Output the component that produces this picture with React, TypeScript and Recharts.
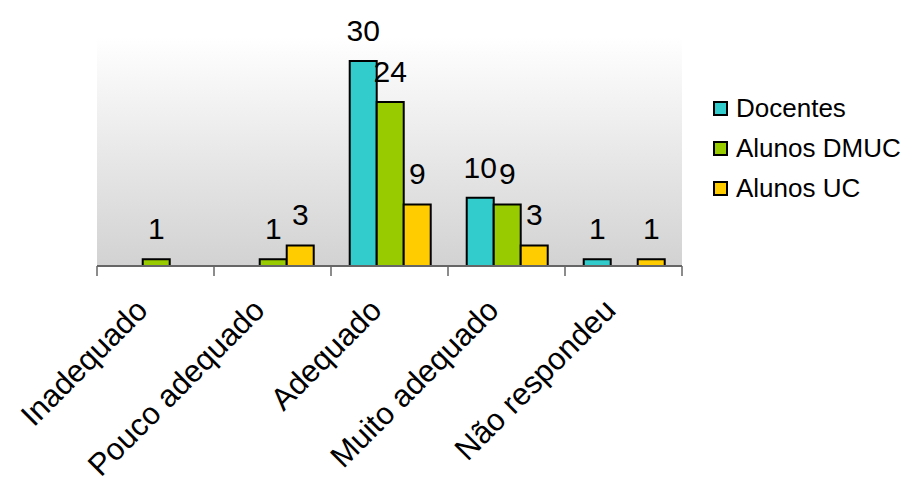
import { BarChart, Bar, XAxis, YAxis, CartesianGrid, LabelList, Legend } from 'recharts'

const categories = ['Inadequado', 'Pouco adequado', 'Adequado', 'Muito adequado', 'Não respondeu']
const docentes = [0, 0, 30, 10, 1]
const alunosDmuc = [1, 1, 24, 9, 0]
const alunosUc = [0, 3, 9, 3, 1]

const seriesNames = ['Docentes', 'Alunos DMUC', 'Alunos UC']
const seriesKeys = ['docentes', 'dmuc', 'uc']
const seriesColors = ['#33CCCC', '#99CC00', '#FFCC00']

const data = categories.map((name, i) => ({
  name,
  docentes: docentes[i],
  dmuc: alunosDmuc[i],
  uc: alunosUc[i],
}))

const FONT = '"Liberation Sans", Arial, sans-serif'
const PLOT_LEFT = 97
const PLOT_RIGHT = 682
const BAND = (PLOT_RIGHT - PLOT_LEFT) / categories.length

function CategoryTick(props: any) {
  const { x, y, payload, index } = props
  const ax = x - 6
  const ay = y + 46
  return (
    <g>
      <line x1={x - BAND / 2} x2={x - BAND / 2} y1={y} y2={y + 10} stroke="#666" strokeWidth={1.5} />
      {index === categories.length - 1 && (
        <line x1={x + BAND / 2} x2={x + BAND / 2} y1={y} y2={y + 10} stroke="#666" strokeWidth={1.5} />
      )}
      <text
        x={ax}
        y={ay}
        textAnchor="end"
        transform={`rotate(-45, ${ax}, ${ay})`}
        fontSize={31}
        fontFamily={FONT}
        fill="#000"
      >
        {payload.value}
      </text>
    </g>
  )
}

function LegendBox() {
  return (
    <div style={{ fontFamily: FONT, fontSize: 26, color: '#000' }}>
      {seriesNames.map((n, i) => (
        <div key={n} style={{ display: 'flex', alignItems: 'center', height: 40 }}>
          <span
            style={{
              display: 'inline-block',
              width: 11,
              height: 11,
              background: seriesColors[i],
              border: '2px solid #000',
              marginRight: 8,
            }}
          />
          <span>{n}</span>
        </div>
      ))}
    </div>
  )
}

const labelFmt = (v: any) => (v ? v : '')

export default function App() {
  return (
    <div style={{ position: 'absolute', left: 0, top: 0, width: 904, height: 484, background: '#fff' }}>
      <BarChart
        width={904}
        height={484}
        data={data}
        margin={{ top: 37, right: 904 - PLOT_RIGHT, bottom: 0, left: PLOT_LEFT }}
        barCategoryGap="16%"
        barGap={0}
      >
        <defs>
          <linearGradient id="plotBg" x1="0" y1="0" x2="0" y2="1">
            <stop offset="0%" stopColor="#ffffff" />
            <stop offset="100%" stopColor="#d2d2d2" />
          </linearGradient>
        </defs>
        <CartesianGrid horizontal={false} vertical={false} fill="url(#plotBg)" />
        <XAxis
          dataKey="name"
          height={218}
          interval={0}
          tickLine={false}
          tickSize={0}
          tickMargin={0}
          axisLine={{ stroke: '#666', strokeWidth: 2 }}
          tick={<CategoryTick />}
        />
        <YAxis hide domain={[0, 33.5]} />
        <Legend
          layout="vertical"
          align="center"
          verticalAlign="middle"
          content={<LegendBox />}
          wrapperStyle={{ left: 713, top: 88, width: 191 }}
        />
        {seriesKeys.map((k, i) => (
          <Bar
            key={k}
            dataKey={k}
            name={seriesNames[i]}
            fill={seriesColors[i]}
            stroke="#000"
            strokeWidth={2}
            isAnimationActive={false}
          >
            <LabelList
              dataKey={k}
              position="top"
              offset={20}
              formatter={labelFmt}
              style={{ fontSize: 30, fontFamily: FONT, fill: '#000' }}
            />
          </Bar>
        ))}
      </BarChart>
    </div>
  )
}
